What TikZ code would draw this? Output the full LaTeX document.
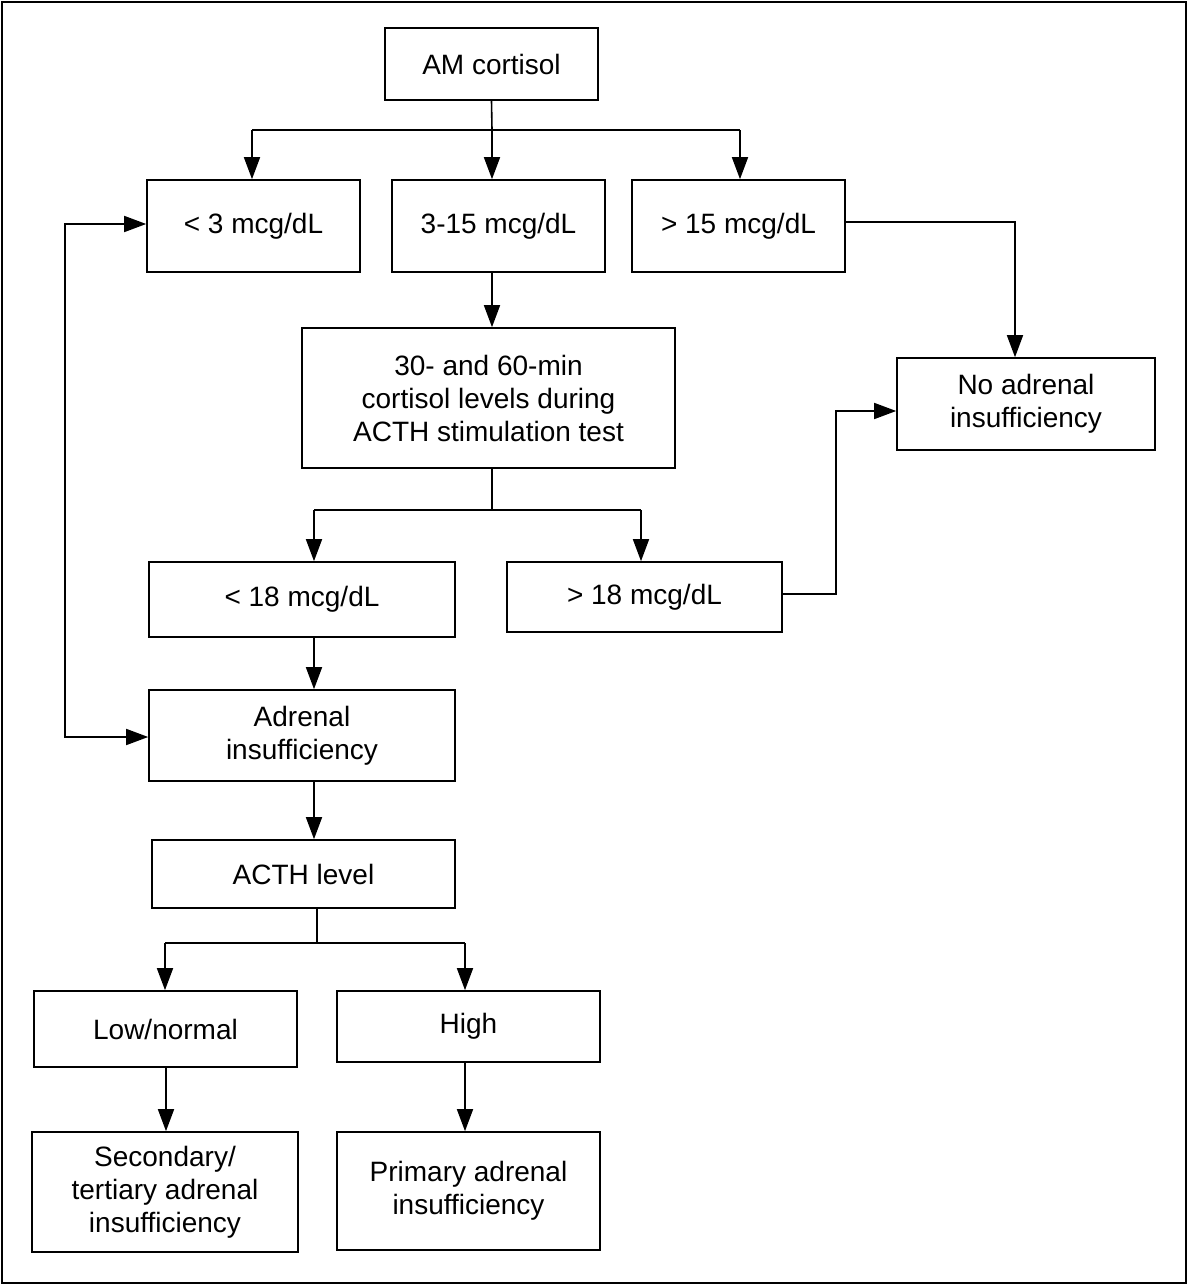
\documentclass[tikz,border=0pt]{standalone}
\usepackage{fontspec}
\setmainfont{Liberation Sans}
\usetikzlibrary{arrows.meta}
\begin{document}
\begin{tikzpicture}[x=1pt,y=-1pt,
  box/.style={draw,line width=1.6pt,inner sep=0pt,align=center,font=\fontsize{28}{33}\selectfont},
  ln/.style={line width=1.6pt},
  arr/.style={ln,-{Triangle[length=22pt,width=16pt]}}]
\draw[line width=1.6pt] (2,2) rectangle (1186,1283);
\useasboundingbox (0,0) rectangle (1188,1285);
\newcommand\bx[6]{\node[box,minimum width={#4-#2},minimum height={#5-#3}] (#1) at ({(#2+#4)/2},{(#3+#5)/2}) {#6};}
\bx{am}{385}{28}{598}{100}{AM cortisol}
\bx{lt3}{147}{180}{360}{272}{< 3 mcg/dL}
\bx{mid}{392}{180}{605}{272}{3-15 mcg/dL}
\bx{gt15}{632}{180}{845}{272}{> 15 mcg/dL}
\bx{test}{302}{328}{675}{468}{30- and 60-min\\cortisol levels during\\ACTH stimulation test}
\bx{noadr}{897}{358}{1155}{450}{No adrenal\\insufficiency}
\bx{lt18}{149}{562}{455}{637}{< 18 mcg/dL}
\bx{gt18}{507}{562}{782}{632}{> 18 mcg/dL}
\bx{adr}{149}{690}{455}{781}{Adrenal\\insufficiency}
\bx{lvl}{152}{840}{455}{908}{ACTH level}
\bx{low}{34}{991}{297}{1067}{Low/normal}
\bx{high}{337}{991}{600}{1062}{High}
\bx{sec}{32}{1132}{298}{1252}{Secondary/\\tertiary adrenal\\insufficiency}
\bx{prim}{337}{1132}{600}{1250}{Primary adrenal\\insufficiency}
\coordinate (j1) at (492,130);
\draw[ln] (am.south) -- (j1);
\draw[ln] (252,130) -- (740,130);
\draw[arr] (252,130) -- (lt3.north -| 252,0);
\draw[arr] (j1) -- (mid.north -| 492,0);
\draw[arr] (740,130) -- (gt15.north -| 740,0);
\draw[arr] (mid.south -| 492,0) -- (test.north -| 492,0);
\draw[arr] (gt15.east |- 0,222) -- (1015,222) -- (noadr.north -| 1015,0);
\draw[ln] (test.south -| 492,0) -- (492,510);
\draw[ln] (314,510) -- (641,510);
\draw[arr] (314,510) -- (lt18.north -| 314,0);
\draw[arr] (641,510) -- (gt18.north -| 641,0);
\draw[arr] (gt18.east |- 0,594) -- (836,594) -- (836,411) -- (noadr.west |- 0,411);
\draw[arr] (lt18.south -| 314,0) -- (adr.north -| 314,0);
\draw[ln,{Triangle[length=22pt,width=16pt]}-{Triangle[length=22pt,width=16pt]}] (lt3.west |- 0,224) -- (65,224) -- (65,737) -- (adr.west |- 0,737);
\draw[arr] (adr.south -| 314,0) -- (lvl.north -| 314,0);
\draw[ln] (lvl.south -| 317,0) -- (317,943);
\draw[ln] (165,943) -- (465,943);
\draw[arr] (165,943) -- (low.north -| 165,0);
\draw[arr] (465,943) -- (high.north -| 465,0);
\draw[arr] (low.south -| 166,0) -- (sec.north -| 166,0);
\draw[arr] (high.south -| 465,0) -- (prim.north -| 465,0);
\end{tikzpicture}
\end{document}
